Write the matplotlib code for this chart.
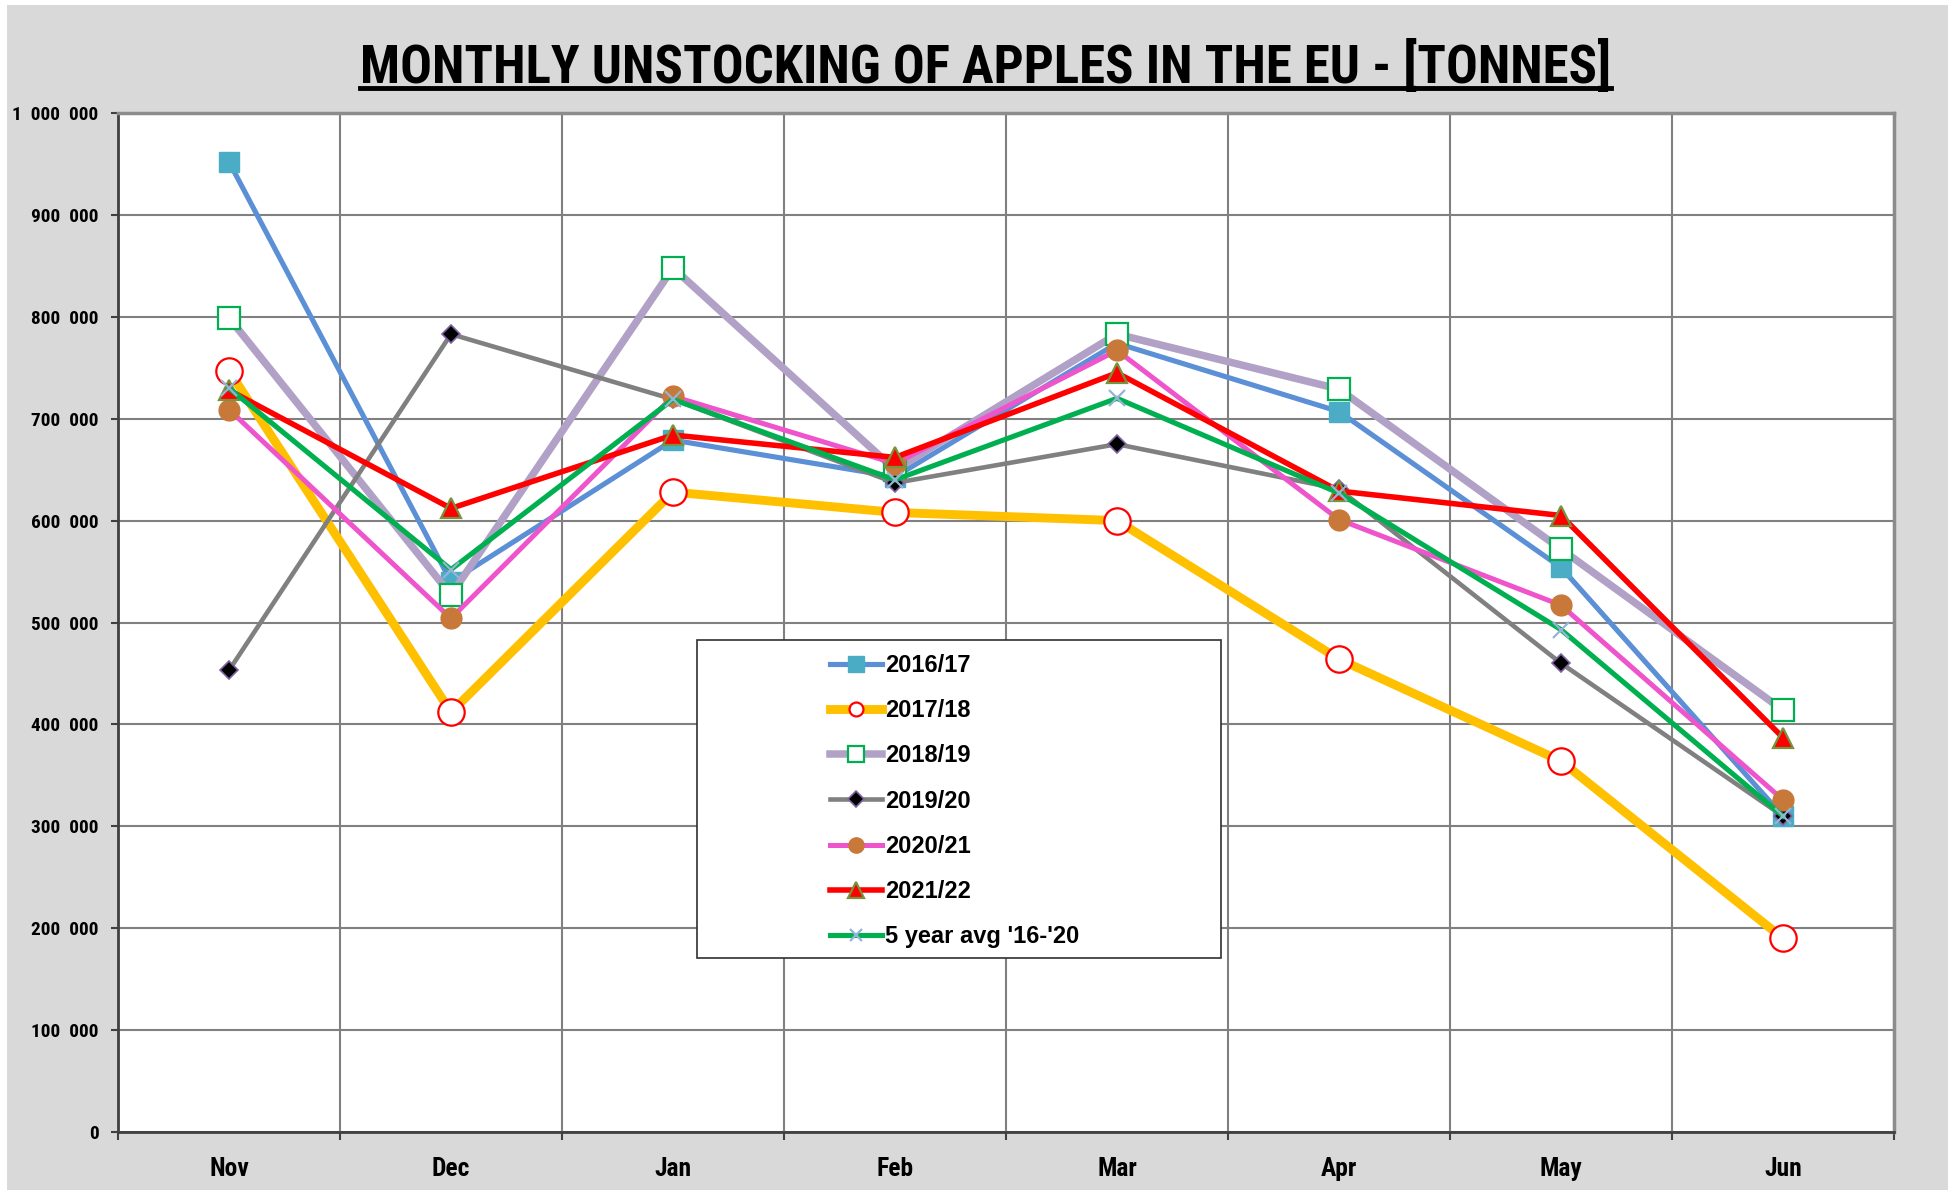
import matplotlib
matplotlib.use('Agg')
import matplotlib.pyplot as plt
from matplotlib import font_manager
from matplotlib.font_manager import FontProperties
from matplotlib.lines import Line2D
from matplotlib.patches import Rectangle

months = ['Nov', 'Dec', 'Jan', 'Feb', 'Mar', 'Apr', 'May', 'Jun']

# tonnes
s1617 = [952000, 540000, 679000, 643000, 774000, 707000, 554000, 310000]
s1718 = [747000, 412000, 628000, 608000, 600000, 464000, 364000, 190000]
s1819 = [799000, 527000, 848000, 650000, 783000, 729000, 572000, 414000]
s1920 = [453000, 783000, 719000, 637000, 675000, 631000, 460000, 310000]
s2021 = [709000, 504000, 722000, 656000, 767000, 601000, 517000, 326000]
s2122 = [728000, 612000, 684000, 662000, 745000, 629000, 605000, 387000]
avg5 = [730000, 552000, 719000, 640000, 720000, 627000, 493000, 310000]

labels = ['2016/17', '2017/18', '2018/19', '2019/20', '2020/21', '2021/22', "5 year avg '16-'20"]
title = 'MONTHLY UNSTOCKING OF APPLES IN THE EU - [TONNES]'


def is_bold(f):
    w = f.weight
    if isinstance(w, str):
        return 'bold' in w.lower() or w.lower() in ('heavy', 'black')
    return w >= 600


def is_narrow(f):
    st = f.stretch
    n = f.name.lower()
    if 'narrow' in n or 'condensed' in n:
        return True
    if isinstance(st, str):
        return 'condensed' in st
    return st < 100 * 5


# look for a bold narrow face, Arial Narrow look-alikes first
prefs = ['liberation sans narrow', 'arial narrow', 'roboto condensed', 'noto sans',
         'open sans', 'dejavu sans', 'inter']
found = [f for f in font_manager.fontManager.ttflist
         if is_bold(f) and is_narrow(f) and 'mono' not in f.name.lower()
         and 'italic' not in f.fname.lower() and f.style == 'normal']
narrow_file = None
for p in prefs:
    for f in found:
        if f.name.lower().startswith(p):
            narrow_file = f.fname
            break
    if narrow_file:
        break
if narrow_file is None and found:
    narrow_file = found[0].fname


def nprop(size):
    if narrow_file:
        return FontProperties(fname=narrow_file, size=size)
    return FontProperties(family='Liberation Sans', weight='bold', size=size)


W, H = 1949, 1190
fig = plt.figure(figsize=(W / 100, H / 100), dpi=100, facecolor='white')
renderer = fig.canvas.get_renderer()


def fit_size(s, width_px, start=20.0):
    w, h, d = renderer.get_text_width_height_descent(s, nprop(start), ismath=False)
    return start * width_px / w


title_size = fit_size(title, 1252)
xlab_size = min(fit_size('Nov', 40), 19.5)
ylab_size = min(fit_size('900  000', 67), 14.2)

fig.patches.append(Rectangle((7 / W, 0), 1, 1 - 5 / H, transform=fig.transFigure,
                             facecolor='#d9d9d9', edgecolor='none', zorder=-10))

ax = fig.add_axes([118 / W, 1 - 1132 / H, (1894 - 118) / W, (1132 - 113) / H])
ax.set_facecolor('white')

x = list(range(len(months)))

ax.plot(x, s1617, '-', color='#5b8fd6', lw=3.7, marker='s', ms=14,
        mfc='#4bacc6', mec='#4bacc6', label=labels[0], zorder=3)
ax.plot(x, s1718, '-', color='#ffc000', lw=6.4, marker='o', ms=19,
        mfc='white', mec='#ff0000', mew=1.6, label=labels[1], zorder=3)
ax.plot(x, s1819, '-', color='#b2a1c7', lw=5.4, marker='s', ms=16,
        mfc='white', mec='#00b050', mew=1.6, label=labels[2], zorder=3)
ax.plot(x, s1920, '-', color='#808080', lw=3.3, marker='D', ms=9.5,
        mfc='black', mec='#8064a2', mew=1.2, label=labels[3], zorder=3)
ax.plot(x, s2021, '-', color='#ee55cc', lw=3.6, marker='o', ms=15,
        mfc='#c8793a', mec='#c8793a', label=labels[4], zorder=3)
ax.plot(x, s2122, '-', color='#ff0000', lw=4.0, marker='^', ms=14,
        mfc='#ff0000', mec='#77933c', mew=1.6, label=labels[5], zorder=3)
ax.plot(x, avg5, '-', color='#00b050', lw=3.7, marker='x', ms=11,
        mec='#95b3d7', mew=1.6, label=labels[6], zorder=3)

ax.set_xlim(-0.5, len(months) - 0.5)
ax.set_ylim(0, 1000000)

ax.set_xticks(x)
ax.set_xticklabels(months, fontproperties=nprop(xlab_size))
ax.set_xticks([i + 0.5 for i in range(-1, len(months))], minor=True)
ax.tick_params(axis='x', which='major', length=0, pad=18)
ax.tick_params(axis='x', which='minor', length=6, width=1.5, color='#404040')

yt = list(range(0, 1000001, 100000))
ax.set_yticks(yt)
ax.set_yticklabels(['{:,}'.format(v).replace(',', '  ') for v in yt],
                   fontproperties=nprop(ylab_size))
ax.tick_params(axis='y', length=5, width=1.5, color='#404040', pad=9)

ax.grid(True, axis='y', which='major', color='#808080', lw=1.5, zorder=1)
ax.grid(True, axis='x', which='minor', color='#808080', lw=1.5, zorder=1)
ax.set_axisbelow(True)

for side in ['left', 'bottom']:
    ax.spines[side].set_color('#404040')
    ax.spines[side].set_linewidth(2)
for side in ['top', 'right']:
    ax.spines[side].set_color('#8c8c8c')
    ax.spines[side].set_linewidth(2.5)

# legend frame drawn separately, handles sit in the middle of the box
fig.patches.append(Rectangle((697 / W, 1 - 958 / H), (1221 - 697) / W, (958 - 640) / H,
                             transform=fig.transFigure, facecolor='white',
                             edgecolor='#303030', lw=1.2, zorder=4))
leg = fig.legend(loc='upper left', bbox_to_anchor=(830 / W, 1 - 654 / H),
                 frameon=False, borderpad=0, borderaxespad=0,
                 handlelength=2.2, handletextpad=0.12, labelspacing=0.94,
                 prop={'family': 'Liberation Sans', 'weight': 'bold', 'size': 17})
leg.set_zorder(5)
for h, ms in zip(leg.legend_handles, [11, 10, 11, 8, 11, 11, 9]):
    h.set_markersize(ms)

t = fig.text(0.5055, 1 - 67 / H, title, ha='center', va='center',
             fontproperties=nprop(title_size))

fig.canvas.draw()
bb = t.get_window_extent(fig.canvas.get_renderer()).transformed(fig.transFigure.inverted())
fig.add_artist(Line2D([bb.x0, bb.x1], [1 - 88 / H, 1 - 88 / H], transform=fig.transFigure,
                      color='black', lw=3.5))

fig.savefig('out.png', dpi=100, facecolor=fig.get_facecolor())
